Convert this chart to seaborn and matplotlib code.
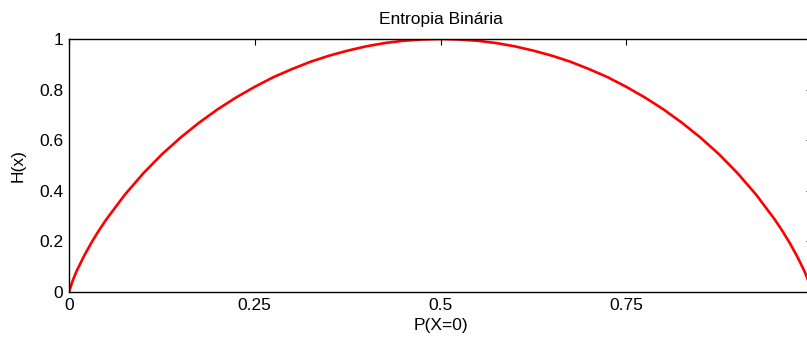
import matplotlib
matplotlib.use("Agg")
import matplotlib.pyplot as plt
import seaborn as sns
import pandas as pd

# Values
p_values = [0.0, 0.005, 0.01, 0.02, 0.03, 0.04, 0.05, 0.075, 0.1, 0.125, 0.15, 0.175,
            0.2, 0.225, 0.25, 0.275, 0.3, 0.325, 0.35, 0.375, 0.4, 0.425, 0.45, 0.475,
            0.5, 0.525, 0.55, 0.575, 0.6, 0.625, 0.65, 0.675, 0.7, 0.725, 0.75, 0.775,
            0.8, 0.825, 0.85, 0.875, 0.9, 0.925, 0.95, 0.96, 0.97, 0.98, 0.99, 0.995, 1.0]
h_values = [0.0, 0.045, 0.081, 0.141, 0.194, 0.242, 0.286, 0.384, 0.469, 0.544, 0.610, 0.669,
            0.722, 0.769, 0.811, 0.849, 0.881, 0.910, 0.934, 0.954, 0.971, 0.984, 0.993, 0.998,
            1.0, 0.998, 0.993, 0.984, 0.971, 0.954, 0.934, 0.910, 0.881, 0.849, 0.811, 0.769,
            0.722, 0.669, 0.610, 0.544, 0.469, 0.384, 0.286, 0.242, 0.194, 0.141, 0.081, 0.045, 0.0]
x_ticks = [0, 0.25, 0.5, 0.75]
x_tick_labels = ["0", "0.25", "0.5", "0.75"]
y_ticks = [0, 0.2, 0.4, 0.6, 0.8, 1.0]
y_tick_labels = ["0", "0.2", "0.4", "0.6", "0.8", "1"]

sns.set_theme(style="white")
plt.rcParams["font.family"] = ["Liberation Sans", "DejaVu Sans"]

df = pd.DataFrame({"p": p_values, "h": h_values})

fig = plt.figure(figsize=(8.07, 3.42), dpi=100)
ax = fig.add_axes([69 / 807, 50 / 342, 743 / 807, 253 / 342])
sns.lineplot(data=df, x="p", y="h", ax=ax, color="red", linewidth=1.9)

ax.set_xlim(0, 1)
ax.set_ylim(0, 1)
ax.set_xticks(x_ticks)
ax.set_xticklabels(x_tick_labels)
ax.set_yticks(y_ticks)
ax.set_yticklabels(y_tick_labels)
ax.tick_params(direction="in", length=4, width=0.8, top=True, right=True,
               labelsize=12.5, colors="black", pad=4)
for s in ax.spines.values():
    s.set_color("black")
    s.set_linewidth(1.0)
    s.set_visible(True)

ax.set_title("Entropia Binária", fontsize=12.5, color="black", pad=11)
ax.set_xlabel("P(X=0)", fontsize=12.5, color="black", labelpad=4)
ax.set_ylabel("H(x)", fontsize=12.5, color="black", labelpad=10)

fig.savefig("out.png", dpi=100)
